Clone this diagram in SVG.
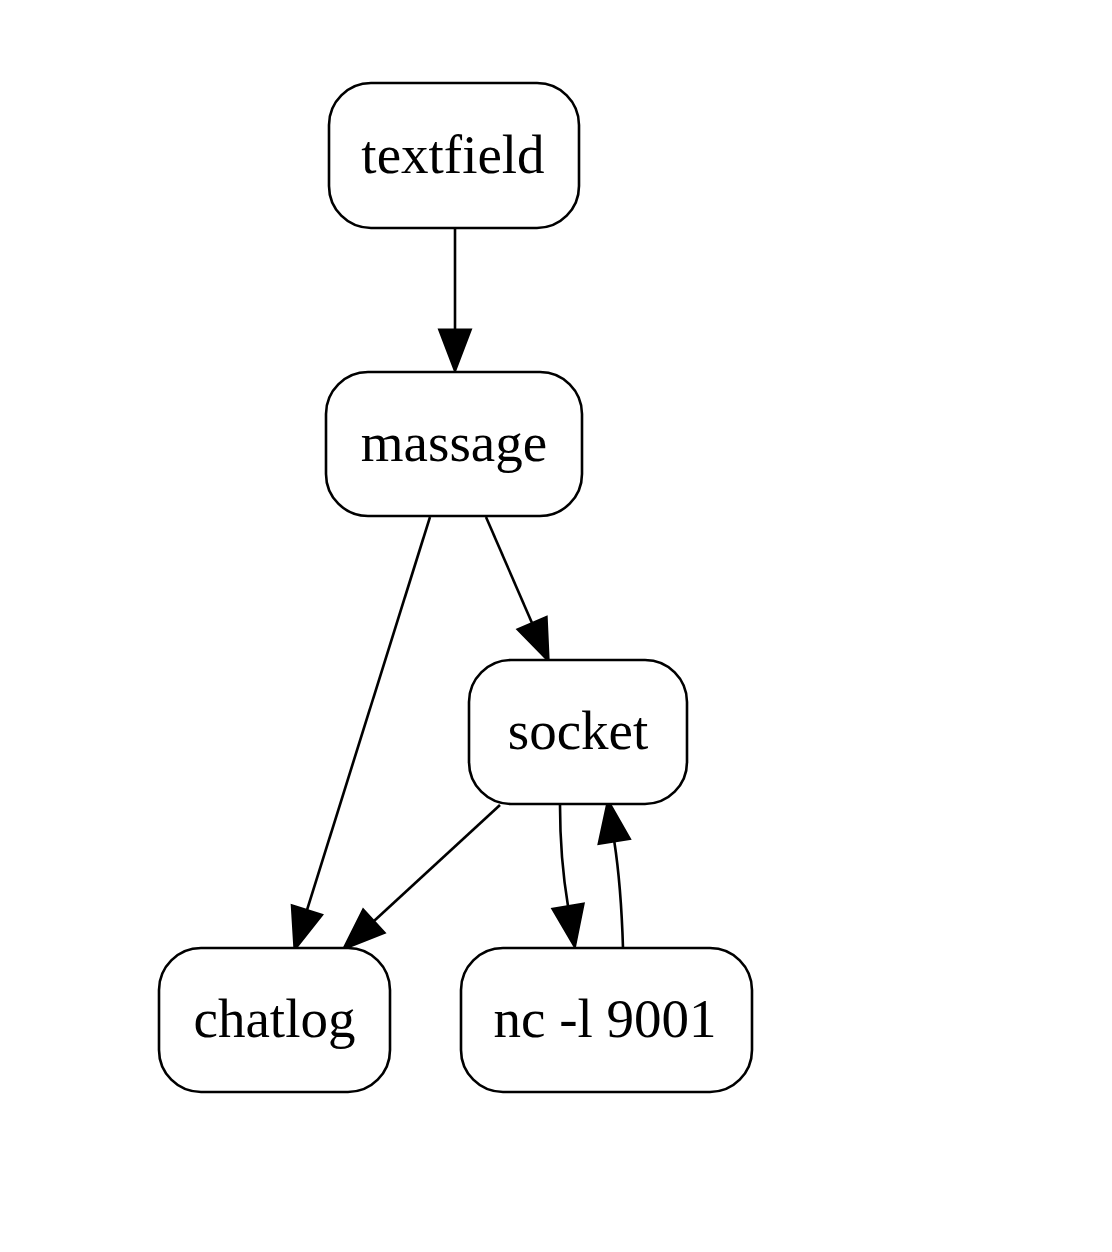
<svg xmlns="http://www.w3.org/2000/svg" width="1112" height="1252" viewBox="0 0 1112 1252">
<style>
.node rect{fill:#fff;stroke:#000;stroke-width:2.6}
.node text{font-family:"Liberation Serif","Times New Roman",serif;font-size:55px;fill:#000;text-anchor:middle}
.edge{fill:none;stroke:#000;stroke-width:2.6;marker-end:url(#ah)}
</style>
<defs>
<marker id="ah" markerUnits="userSpaceOnUse" orient="auto" refX="0" refY="16" markerWidth="44" markerHeight="34" overflow="visible">
<path d="M0,0 L42,16 L0,32 Z" fill="#000" stroke="#000" stroke-width="2"/>
</marker>
</defs>
<rect width="1112" height="1252" fill="#fff"/>
<g id="connectors">
<path class="edge" d="M455,228 L455,329.5"/>
<path class="edge" d="M430,517 L307,910"/>
<path class="edge" d="M486,517 L532,623"/>
<path class="edge" d="M500,805 L374,921"/>
<path class="edge" d="M560,805 C560,835 563,876 568,906"/>
<path class="edge" d="M623,948 C622,915 619,872 614.3,841.5"/>
</g>
<g id="textfield" class="node"><rect x="329" y="83" width="250" height="145" rx="42" ry="42"/><text x="453" y="173">textfield</text></g>
<g id="massage" class="node"><rect x="326" y="372" width="256" height="144" rx="42" ry="42"/><text x="454" y="461">massage</text></g>
<g id="socket" class="node"><rect x="469" y="660" width="218" height="144" rx="42" ry="42"/><text x="578" y="749">socket</text></g>
<g id="chatlog" class="node"><rect x="159" y="948" width="231" height="144" rx="42" ry="42"/><text x="274.5" y="1037">chatlog</text></g>
<g id="nc" class="node"><rect x="461" y="948" width="291" height="144" rx="42" ry="42"/><text x="605" y="1037">nc -l 9001</text></g>
</svg>
